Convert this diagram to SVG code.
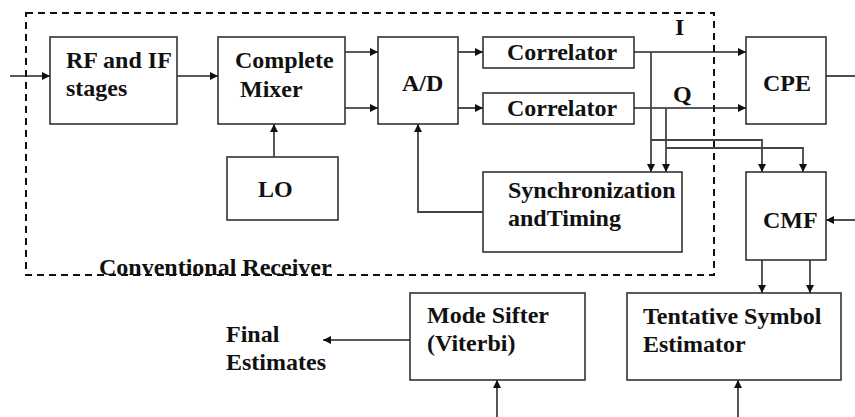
<svg xmlns="http://www.w3.org/2000/svg" width="855" height="417" viewBox="0 0 855 417">
<style>
.box{fill:#fff;stroke:#333;stroke-width:1.6}
.t{font-family:"Liberation Serif","Times New Roman",serif;font-weight:bold;font-size:24px;fill:#111}
.w{fill:none;stroke:#222;stroke-width:1.6}
.g{fill:none;stroke:#444;stroke-width:1.8}
.dash{fill:none;stroke:#111;stroke-width:2;stroke-dasharray:7 5}
</style>
<defs>
<marker id="ah" viewBox="0 0 10 10" refX="10" refY="5" markerWidth="9" markerHeight="8" markerUnits="userSpaceOnUse" orient="auto">
<path d="M0,0 L10,5 L0,10 Z" fill="#111"/>
</marker>
</defs>
<rect id="receiver-boundary" class="dash" x="26" y="13" width="688" height="262"/>
<g id="connectors">
<line class="w" x1="10" y1="76" x2="50" y2="76" marker-end="url(#ah)"/>
<line class="w" x1="177" y1="76" x2="218" y2="76" marker-end="url(#ah)"/>
<line class="w" x1="345" y1="52" x2="378" y2="52" marker-end="url(#ah)"/>
<line class="w" x1="345" y1="108" x2="378" y2="108" marker-end="url(#ah)"/>
<line class="w" x1="458" y1="52" x2="483" y2="52" marker-end="url(#ah)"/>
<line class="w" x1="458" y1="108" x2="483" y2="108" marker-end="url(#ah)"/>
<line class="g" x1="274" y1="157" x2="274" y2="124" marker-end="url(#ah)"/>
<polyline class="g" points="483,212 418,212 418,124" marker-end="url(#ah)"/>
<line class="w" x1="634" y1="52" x2="746" y2="52" marker-end="url(#ah)"/>
<line class="w" x1="634" y1="108" x2="746" y2="108" marker-end="url(#ah)"/>
<line class="w" x1="826" y1="76" x2="855" y2="76"/>
<line class="g" x1="651" y1="52" x2="651" y2="172" marker-end="url(#ah)"/>
<polyline class="g" points="651,140 762,140 762,172" marker-end="url(#ah)"/>
<line class="g" x1="666" y1="108" x2="666" y2="172" marker-end="url(#ah)"/>
<polyline class="g" points="666,148 803,148 803,172" marker-end="url(#ah)"/>
<line class="w" x1="855" y1="220" x2="826" y2="220" marker-end="url(#ah)"/>
<line class="g" x1="762" y1="260" x2="762" y2="293" marker-end="url(#ah)"/>
<line class="g" x1="810" y1="260" x2="810" y2="293" marker-end="url(#ah)"/>
<line class="w" x1="410" y1="340" x2="323" y2="340" marker-end="url(#ah)"/>
<line class="g" x1="497" y1="417" x2="497" y2="380" marker-end="url(#ah)"/>
<line class="g" x1="738" y1="417" x2="738" y2="380" marker-end="url(#ah)"/>
</g>
<g id="rf-if"><rect class="box" x="50" y="37" width="127" height="87"/><text class="t" x="66" y="68">RF and IF</text><text class="t" x="66" y="96">stages</text></g>
<g id="mixer"><rect class="box" x="218" y="37" width="127" height="87"/><text class="t" x="235" y="68">Complete</text><text class="t" x="240" y="97">Mixer</text></g>
<g id="ad"><rect class="box" x="378" y="37" width="80" height="87"/><text class="t" x="402" y="91">A/D</text></g>
<g id="corr-i"><rect class="box" x="483" y="37" width="151" height="31"/><text class="t" x="507" y="60">Correlator</text></g>
<g id="corr-q"><rect class="box" x="483" y="93" width="151" height="31"/><text class="t" x="507" y="116">Correlator</text></g>
<g id="cpe"><rect class="box" x="746" y="37" width="80" height="87"/><text class="t" x="763" y="91">CPE</text></g>
<g id="lo"><rect class="box" x="227" y="157" width="111" height="63"/><text class="t" x="258" y="197">LO</text></g>
<g id="sync"><rect class="box" x="483" y="172" width="199" height="80"/><text class="t" x="508" y="198">Synchronization</text><text class="t" x="508" y="226">andTiming</text></g>
<g id="cmf"><rect class="box" x="746" y="172" width="80" height="88"/><text class="t" x="763" y="228">CMF</text></g>
<g id="mode-sifter"><rect class="box" x="410" y="293" width="175" height="87"/><text class="t" x="427" y="323">Mode Sifter</text><text class="t" x="427" y="351">(Viterbi)</text></g>
<g id="tentative"><rect class="box" x="627" y="293" width="214" height="87"/><text class="t" x="643" y="324">Tentative Symbol</text><text class="t" x="643" y="352">Estimator</text></g>
<g id="labels">
<text class="t" x="675" y="35">I</text>
<text class="t" x="673" y="102">Q</text>
<text class="t" x="99" y="275">Conventional Receiver</text>
<text class="t" x="226" y="342">Final</text>
<text class="t" x="226" y="370">Estimates</text>
</g>
</svg>
